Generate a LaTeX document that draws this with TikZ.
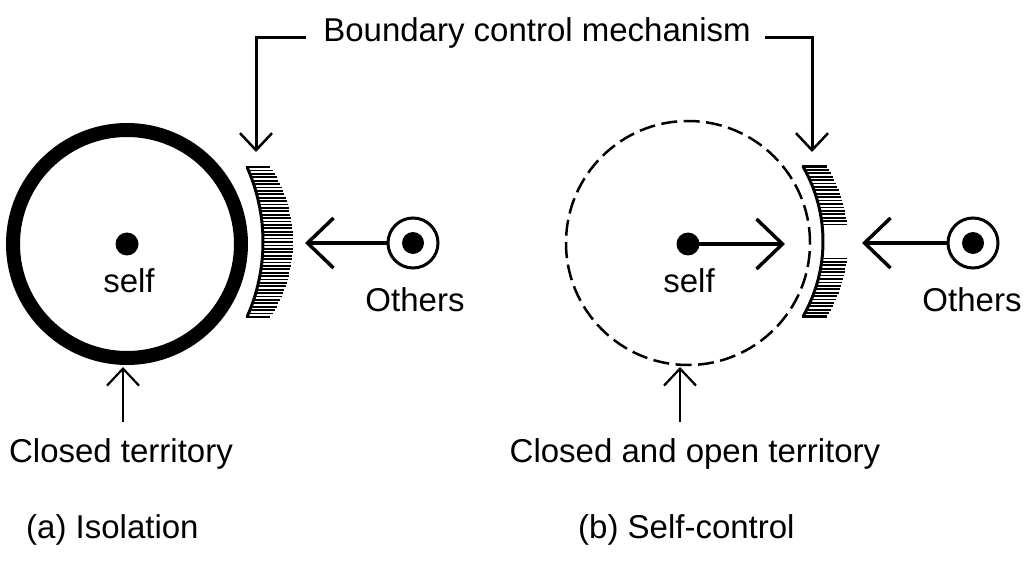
\documentclass[tikz,border=0pt]{standalone}
\usepackage{fontspec}
\setmainfont{Liberation Sans}
\usetikzlibrary{arrows.meta}
\tikzset{
  label/.style={inner sep=0pt, anchor=base, font=\fontsize{33}{36}\selectfont},
  bracket/.style={line width=3pt, -{Straight Barb[length=17pt,width=32pt,line width=2.5pt]}},
  uparrow/.style={line width=2.2pt, -{Straight Barb[length=17pt,width=32pt,line width=2.2pt]}},
  bigarrow/.style={line width=4pt, -{Straight Barb[length=26pt,width=50pt,line width=3.5pt]}},
  hatchline/.style={line width=1.8pt},
  hatchcap/.style={line width=2.6pt},
  rim/.style={line width=3pt},
  dotfill/.style={circle, fill=black, inner sep=0pt, minimum size=23pt},
  otherring/.style={circle, draw, line width=3pt, inner sep=0pt, minimum size=50pt},
}
\begin{document}
\begin{tikzpicture}[x=1pt,y=1pt]
  \useasboundingbox (0,0) rectangle (1023,-572);

  % ---------------- (a) Isolation ----------------
  \draw[line width=14pt] (127,-244) circle[radius=114];
  \node[dotfill] (selfA) at (127,-244) {};
  \node[label] (selfAtxt) at (129,-292) {self};

  % boundary: rim arc and hatching
  \draw[rim] (79,-242) ++(24.05:184) arc[start angle=24.05, end angle=-24.05, radius=184];
  \foreach \i in {0,...,44} {
    \pgfmathsetmacro\dy{-75+\i*150/44}
    \pgfmathsetmacro\xin{79+10*sqrt(338.56-(\dy/10)^2)-1}
    \pgfmathsetmacro\xout{157+10*sqrt(184.96-(\dy/10)^2)}
    \pgfmathsetmacro\yy{-242-\dy}
    \ifnum\i=0 \draw[hatchcap] (\xin,\yy) -- (\xout,\yy);
    \else\ifnum\i=44 \draw[hatchcap] (\xin,\yy) -- (\xout,\yy);
    \else \draw[hatchline] (\xin,\yy) -- (\xout,\yy); \fi\fi
  }

  \node[otherring] (othA) at (413,-243) {};
  \node[dotfill, minimum size=22pt] (othAdot) at (413,-243) {};
  \coordinate (tipA) at (305,-243);
  \draw[bigarrow] (othA.west) -- (tipA);
  \node[label] (othAtxt) at (415,-311) {Others};

  \coordinate (terrA) at (123,-422);
  \coordinate (terrAtip) at (123,-367);
  \draw[uparrow] (terrA) -- (terrAtip);
  \node[label] (terrAtxt) at (121,-462) {Closed territory};

  \node[label, anchor=base west] (capA) at (26,-538) {(a) Isolation};

  % ---------------- (b) Self-control ----------------
  \draw[line width=2.5pt, dash pattern=on 16pt off 6.5pt] (688,-243) circle[radius=122];
  \node[dotfill] (selfB) at (688,-244) {};
  \node[label] (selfBtxt) at (689,-292) {self};
  \coordinate (tipB) at (785,-244);
  \draw[bigarrow] (selfB.center) -- (tipB);

  % boundary with an opening in the middle
  \draw[rim] (672.4,-241.5) ++(29.87:150.6) arc[start angle=29.87, end angle=-29.87, radius=150.6];
  \foreach \i in {0,...,44} {
    \pgfmathsetmacro\dy{-75+\i*150/44}
    \pgfmathtruncatemacro\ingap{(\dy>-15)&&(\dy<14)}
    \ifnum\ingap=0
      \pgfmathsetmacro\xin{672.4+10*sqrt(226.80-(\dy/10)^2)-1}
      \pgfmathsetmacro\xout{704+10*sqrt(207.36-(\dy/10)^2)}
      \pgfmathsetmacro\yy{-241.5-\dy}
      \ifnum\i=0 \draw[hatchcap] (\xin,\yy) -- (\xout,\yy);
      \else\ifnum\i=44 \draw[hatchcap] (\xin,\yy) -- (\xout,\yy);
      \else \draw[hatchline] (\xin,\yy) -- (\xout,\yy); \fi\fi
    \fi
  }

  \node[otherring] (othB) at (973,-243) {};
  \node[dotfill, minimum size=22pt] (othBdot) at (973,-243) {};
  \coordinate (tipC) at (862,-243);
  \draw[bigarrow] (othB.west) -- (tipC);
  \node[label] (othBtxt) at (972,-311) {Others};

  \coordinate (terrB) at (680,-422);
  \coordinate (terrBtip) at (680,-367);
  \draw[uparrow] (terrB) -- (terrBtip);
  \node[label] (terrBtxt) at (695,-462) {Closed and open territory};

  \node[label, anchor=base west] (capB) at (578,-538) {(b) Self-control};

  % ---------------- shared label ----------------
  \node[label] (mech) at (537,-42) {Boundary control mechanism};
  \coordinate (mechL) at (306,-38);
  \coordinate (mechR) at (765,-38);
  \draw[bracket] (mechL) -- (256,-38) -- (256,-152);
  \draw[bracket] (mechR) -- (812,-38) -- (812,-152);
\end{tikzpicture}
\end{document}
